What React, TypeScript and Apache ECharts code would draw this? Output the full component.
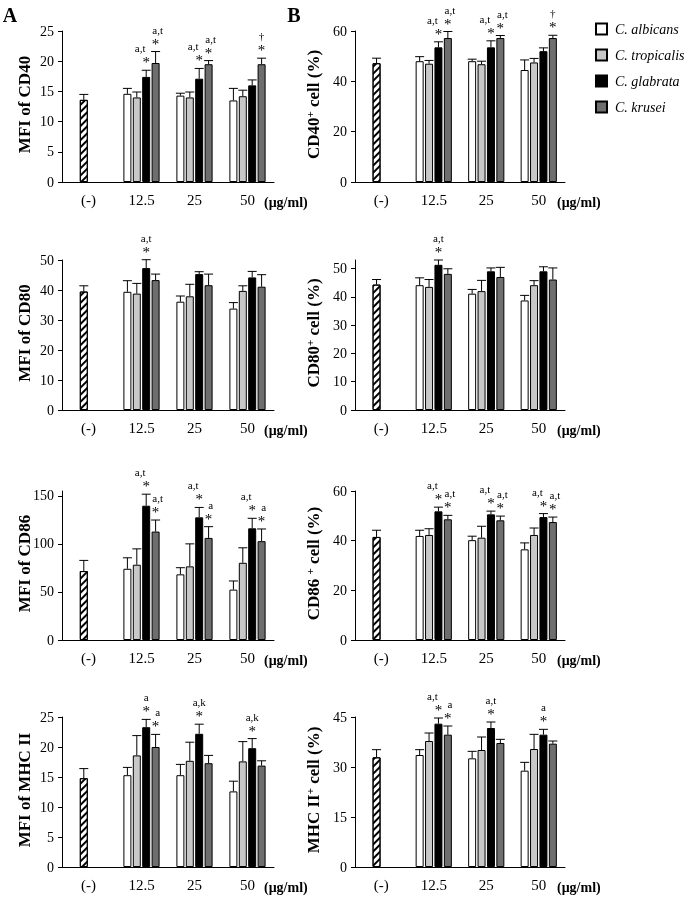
import React, { useEffect, useRef } from 'react';
import * as echarts from 'echarts';

// ---------- data ----------
const categories = ['(-)', '12.5', '25', '50'];
const speciesNames = ['C. albicans', 'C. tropicalis', 'C. glabrata', 'C. krusei'];
const doseUnit = '(μg/ml)';

// [mean, error] of the untreated control
const cd40MfiControl = [13.6, 0.9];
// rows = species, columns = 12.5, 25, 50 μg/ml
const cd40MfiMeans = [
  [14.6, 14.3, 13.5],
  [14.0, 14.0, 14.2],
  [17.4, 17.1, 16.0],
  [19.7, 19.5, 19.5],
];
const cd40MfiErrors = [
  [0.9, 0.4, 2.0],
  [0.9, 0.9, 1.0],
  [1.1, 1.7, 0.9],
  [1.9, 0.6, 1.0],
];
const cd40MfiMarks = [[1, 2, 'a,t'], [1, 3, 'a,t'], [2, 2, 'a,t'], [2, 3, 'a,t'], [3, 3, '†']];

const cd40PctControl = [47.2, 2.0];
const cd40PctMeans = [
  [48.0, 48.0, 44.5],
  [47.0, 46.8, 47.5],
  [53.5, 53.5, 52.0],
  [57.2, 57.2, 57.2],
];
const cd40PctErrors = [
  [1.8, 0.8, 4.0],
  [1.3, 1.2, 1.6],
  [2.2, 2.6, 1.3],
  [2.6, 1.0, 1.1],
];
const cd40PctMarks = [[1, 2, 'a,t'], [1, 3, 'a,t'], [2, 2, 'a,t'], [2, 3, 'a,t'], [3, 3, '†']];

const cd80MfiControl = [39.5, 1.9];
const cd80MfiMeans = [
  [39.4, 36.1, 33.8],
  [38.8, 37.9, 39.7],
  [47.3, 45.3, 44.2],
  [43.3, 41.6, 41.1],
];
const cd80MfiErrors = [
  [3.7, 1.9, 2.0],
  [3.4, 4.0, 1.7],
  [2.8, 0.8, 2.0],
  [2.0, 3.7, 4.0],
];
const cd80MfiMarks = [[1, 2, 'a,t']];

const cd80PctControl = [44.3, 1.8];
const cd80PctMeans = [
  [44.1, 41.1, 38.7],
  [43.5, 42.0, 44.1],
  [51.3, 49.0, 49.0],
  [48.1, 47.0, 46.1],
];
const cd80PctErrors = [
  [2.6, 1.5, 1.8],
  [2.6, 3.8, 1.6],
  [1.7, 1.2, 1.6],
  [1.8, 3.4, 4.1],
];
const cd80PctMarks = [[1, 2, 'a,t']];

const cd86MfiControl = [71.7, 11.1];
const cd86MfiMeans = [
  [74.1, 68.3, 52.4],
  [78.3, 76.6, 80.3],
  [139.7, 127.6, 116.2],
  [112.8, 106.2, 102.8],
];
const cd86MfiErrors = [
  [11.4, 6.9, 9.0],
  [16.5, 23.4, 15.6],
  [12.0, 10.3, 10.4],
  [12.0, 11.7, 12.7],
];
const cd86MfiMarks = [[1, 2, 'a,t'], [1, 3, 'a,t'], [2, 2, 'a,t'], [2, 3, 'a'], [3, 2, 'a,t'], [3, 3, 'a']];

const cd86PctControl = [41.5, 2.7];
const cd86PctMeans = [
  [41.9, 40.2, 36.5],
  [42.3, 41.2, 42.3],
  [51.8, 50.6, 49.5],
  [48.6, 48.2, 47.5],
];
const cd86PctErrors = [
  [2.3, 1.6, 2.6],
  [2.5, 4.6, 2.8],
  [1.7, 1.3, 1.4],
  [1.6, 1.7, 2.0],
];
const cd86PctMarks = [[1, 2, 'a,t'], [1, 3, 'a,t'], [2, 2, 'a,t'], [2, 3, 'a,t'], [3, 2, 'a,t'], [3, 3, 'a,t']];

const mhcMfiControl = [14.8, 1.6];
const mhcMfiMeans = [
  [15.3, 15.3, 12.6],
  [18.6, 17.7, 17.6],
  [23.3, 22.2, 19.8],
  [20.0, 17.3, 16.9],
];
const mhcMfiErrors = [
  [1.3, 1.8, 1.7],
  [3.3, 3.1, 3.3],
  [1.3, 1.6, 1.6],
  [2.1, 1.3, 0.8],
];
const mhcMfiMarks = [[1, 2, 'a'], [1, 3, 'a'], [2, 2, 'a,k'], [3, 2, 'a,k']];

const mhcPctControl = [32.9, 2.3];
const mhcPctMeans = [
  [33.6, 32.6, 28.9],
  [37.8, 35.1, 35.4],
  [43.0, 41.7, 39.7],
  [39.7, 37.2, 37.0],
];
const mhcPctErrors = [
  [1.6, 2.1, 2.5],
  [2.4, 3.9, 4.4],
  [1.7, 1.8, 1.6],
  [2.6, 1.1, 0.8],
];
const mhcPctMarks = [[1, 2, 'a,t'], [1, 3, 'a'], [2, 2, 'a,t'], [3, 2, 'a']];

// ---------- layout / style ----------
const FONT = "'Liberation Serif', 'Times New Roman', Times, serif";
const barColors = ['#ffffff', '#c8c8c8', '#000000', '#6e6e6e'];
const BAR_W = 8;
const BAR_GAP = 1.4;
const CONTROL_SLOT = 1;
const slotOffset = (s: number) => (s - 1.5) * (BAR_W + BAR_GAP);

const colLayout = [
  { left: 62, width: 212, titleX: 24, unitX: 264 },
  { left: 355, width: 210, titleX: 313, unitX: 557 },
];
const rowLayout = [
  { top: 31, height: 151 },
  { top: 260, height: 150 },
  { top: 491, height: 149 },
  { top: 717, height: 150 },
];

const panels = [
  { col: 0, row: 0, title: 'MFI of CD40', max: 25, interval: 5, control: cd40MfiControl, means: cd40MfiMeans, errors: cd40MfiErrors, marks: cd40MfiMarks },
  { col: 1, row: 0, title: 'CD40{sup|+} cell (%)', max: 60, interval: 20, control: cd40PctControl, means: cd40PctMeans, errors: cd40PctErrors, marks: cd40PctMarks },
  { col: 0, row: 1, title: 'MFI of CD80', max: 50, interval: 10, control: cd80MfiControl, means: cd80MfiMeans, errors: cd80MfiErrors, marks: cd80MfiMarks },
  { col: 1, row: 1, title: 'CD80{sup|+} cell (%)', max: 53, interval: 10, ticks: [0, 10, 20, 30, 40, 50], control: cd80PctControl, means: cd80PctMeans, errors: cd80PctErrors, marks: cd80PctMarks },
  { col: 0, row: 2, title: 'MFI of CD86', max: 155, interval: 50, ticks: [0, 50, 100, 150], control: cd86MfiControl, means: cd86MfiMeans, errors: cd86MfiErrors, marks: cd86MfiMarks },
  { col: 1, row: 2, title: 'CD86 {sup|+} cell (%)', max: 60, interval: 20, control: cd86PctControl, means: cd86PctMeans, errors: cd86PctErrors, marks: cd86PctMarks },
  { col: 0, row: 3, title: 'MFI of MHC II', max: 25, interval: 5, control: mhcMfiControl, means: mhcMfiMeans, errors: mhcMfiErrors, marks: mhcMfiMarks },
  { col: 1, row: 3, title: 'MHC II{sup|+} cell (%)', max: 45, interval: 15, control: mhcPctControl, means: mhcPctMeans, errors: mhcPctErrors, marks: mhcPctMarks },
];

const hatch = {
  color: '#ffffff',
  borderColor: '#000',
  borderWidth: 1,
  decal: {
    symbol: 'rect',
    symbolSize: 1,
    dashArrayX: [1, 0],
    dashArrayY: [1.3, 2.2],
    rotation: -Math.PI / 4,
    color: '#000',
  },
};

function buildOption() {
  const grid: any[] = [];
  const xAxis: any[] = [];
  const yAxis: any[] = [];
  const series: any[] = [];
  const graphic: any[] = [
    { type: 'text', x: 10, y: 15, style: { text: 'A', fontFamily: FONT, fontWeight: 'bold', fontSize: 20, fill: '#000', align: 'center', verticalAlign: 'middle' } },
    { type: 'text', x: 294, y: 15, style: { text: 'B', fontFamily: FONT, fontWeight: 'bold', fontSize: 20, fill: '#000', align: 'center', verticalAlign: 'middle' } },
  ];

  panels.forEach((p: any, i: number) => {
    const c = colLayout[p.col];
    const r = rowLayout[p.row];
    grid.push({ left: c.left, top: r.top, width: c.width, height: r.height, containLabel: false, outerBoundsMode: 'none' });
    xAxis.push({
      gridIndex: i,
      type: 'category',
      data: categories,
      axisLine: { lineStyle: { color: '#000', width: 1 } },
      axisTick: { length: 5, lineStyle: { color: '#000' } },
      axisLabel: { color: '#000', fontFamily: FONT, fontSize: 15, margin: 10 },
    });
    const yTick: any = { show: true, length: 4, lineStyle: { color: '#000' } };
    const yLabel: any = { color: '#000', fontFamily: FONT, fontSize: 14, margin: 8 };
    if (p.ticks) {
      yTick.customValues = p.ticks;
      yLabel.customValues = p.ticks;
    }
    yAxis.push({
      gridIndex: i,
      type: 'value',
      min: 0,
      max: p.max,
      interval: p.interval,
      axisLine: { show: true, lineStyle: { color: '#000', width: 1 } },
      axisTick: yTick,
      axisLabel: yLabel,
      splitLine: { show: false },
    });

    for (let s = 0; s < 4; s++) {
      const data: any[] = [s === CONTROL_SLOT ? { value: p.control[0], itemStyle: hatch } : '-', ...p.means[s]];
      series.push({
        type: 'bar',
        name: speciesNames[s],
        xAxisIndex: i,
        yAxisIndex: i,
        barWidth: BAR_W,
        barGap: (BAR_GAP / BAR_W) * 100 + '%',
        data,
        itemStyle: { color: barColors[s], borderColor: '#000', borderWidth: 1 },
        silent: true,
      });
    }

    const errData: number[][] = [[0, p.control[0], p.control[0] + p.control[1], CONTROL_SLOT]];
    for (let s = 0; s < 4; s++) {
      for (let k = 0; k < 3; k++) {
        errData.push([k + 1, p.means[s][k], p.means[s][k] + p.errors[s][k], s]);
      }
    }
    const marks = p.marks;
    series.push({
      type: 'custom',
      name: 'error-' + i,
      xAxisIndex: i,
      yAxisIndex: i,
      silent: true,
      clip: false,
      z: 5,
      itemStyle: { color: '#000' },
      encode: { x: 0, y: [1, 2] },
      data: errData,
      renderItem: (params: any, api: any) => {
        const cat = api.value(0);
        const mean = api.value(1);
        const hi = api.value(2);
        const slot = api.value(3);
        const p0 = api.coord([cat, mean]);
        const p1 = api.coord([cat, hi]);
        const x = p0[0] + slotOffset(slot);
        const children: any[] = [
          { type: 'line', shape: { x1: x, y1: p0[1], x2: x, y2: p1[1] }, style: { stroke: '#000', lineWidth: 1 } },
          { type: 'line', shape: { x1: x - 4.5, y1: p1[1], x2: x + 4.5, y2: p1[1] }, style: { stroke: '#000', lineWidth: 1 } },
        ];
        const m = marks.find((mm: any) => mm[0] === cat && mm[1] === slot);
        if (m) {
          const label = m[2];
          const nextMarked = marks.some((mm: any) => mm[0] === cat && mm[1] === slot + 1);
          const prevMarked = marks.some((mm: any) => mm[0] === cat && mm[1] === slot - 1);
          const shift = nextMarked && label.length > 1 ? -6 : prevMarked ? 2 : 0;
          children.push({
            type: 'text',
            x: x,
            y: p1[1] - 8,
            style: { text: '*', fontFamily: FONT, fontSize: 15, fill: '#000', align: 'center', verticalAlign: 'middle' },
          });
          children.push({
            type: 'text',
            x: x + shift,
            y: p1[1] - 22,
            style: { text: label, fontFamily: FONT, fontSize: 11, fill: '#000', align: 'center', verticalAlign: 'middle' },
          });
        }
        return { type: 'group', children };
      },
    });

    graphic.push({
      type: 'text',
      x: c.titleX,
      y: r.top + r.height / 2 - 2,
      rotation: Math.PI / 2,
      style: {
        text: p.title,
        fontFamily: FONT,
        fontWeight: 'bold',
        fontSize: 17,
        fill: '#000',
        align: 'center',
        verticalAlign: 'middle',
        rich: {
          sup: { fontFamily: FONT, fontWeight: 'bold', fontSize: 11, fill: '#000', verticalAlign: 'top' },
        },
      },
    });
    graphic.push({
      type: 'text',
      x: c.unitX,
      y: r.top + r.height + 20,
      style: { text: doseUnit, fontFamily: FONT, fontWeight: 'bold', fontSize: 14, fill: '#000', align: 'left', verticalAlign: 'middle' },
    });
  });

  return {
    animation: false,
    backgroundColor: '#ffffff',
    legend: {
      data: speciesNames.map((n) => ({ name: n, icon: 'rect' })),
      orient: 'vertical',
      left: 590,
      top: 17,
      itemWidth: 11,
      itemHeight: 11,
      itemGap: 12,
      selectedMode: false,
      textStyle: { fontFamily: FONT, fontStyle: 'italic', fontSize: 14, color: '#000', padding: [0, 0, 0, 3] },
    },
    grid,
    xAxis,
    yAxis,
    series,
    graphic,
  };
}

export default function App() {
  const ref = useRef<HTMLDivElement>(null);
  useEffect(() => {
    document.body.style.margin = '0';
    if (!ref.current) return;
    const chart = echarts.init(ref.current, null, { renderer: 'svg' });
    chart.setOption(buildOption() as any);
    return () => {
      chart.dispose();
    };
  }, []);
  return <div ref={ref} style={{ width: 685, height: 899, willChange: 'transform' }} />;
}
